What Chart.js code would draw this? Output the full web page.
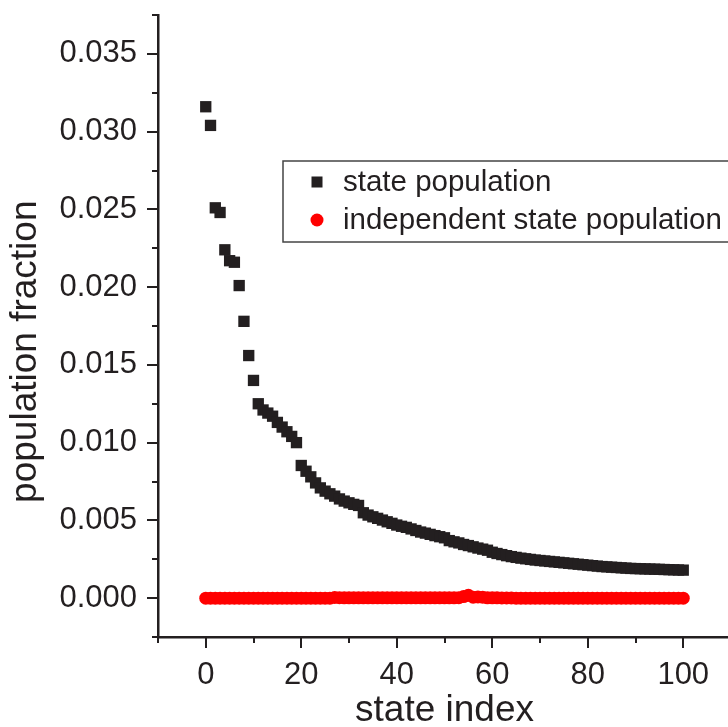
<!DOCTYPE html>
<html>
<head>
<meta charset="utf-8">
<script src="https://cdn.jsdelivr.net/npm/chart.js@4.4.1/dist/chart.umd.min.js"></script>
<style>
  html, body { margin: 0; padding: 0; overflow: hidden; background: #fff; }
  #wrap { width: 728px; height: 727px; overflow: hidden; }
</style>
</head>
<body>
<div id="wrap"><canvas id="myChart" width="739" height="733"></canvas></div>
<script>
// state population fraction per state index (0..100)
const statePopulation = [
  0.0316, 0.0304, 0.0251, 0.0248, 0.0224, 0.0217, 0.0216, 0.0201, 0.0178, 0.0156,
  0.0140, 0.0125, 0.0121, 0.0119, 0.0117, 0.0113, 0.0110, 0.0107, 0.0104, 0.0100,
  0.00853, 0.00816, 0.00780, 0.00741, 0.00709, 0.00688, 0.00671, 0.00656, 0.00638, 0.00624,
  0.00613, 0.00603, 0.00596, 0.00549, 0.00534, 0.00523, 0.00513, 0.00502, 0.00491, 0.00481,
  0.00470, 0.00462, 0.00455, 0.00445, 0.00435, 0.00425, 0.00418, 0.00410, 0.00402, 0.00395,
  0.00388, 0.00370, 0.00362, 0.00355, 0.00345, 0.00338, 0.00330, 0.00322, 0.00315, 0.00308,
  0.00295, 0.00287, 0.00280, 0.00273, 0.00267, 0.00262, 0.00257, 0.00253, 0.00249, 0.00245,
  0.00242, 0.00239, 0.00236, 0.00233, 0.00230, 0.00227, 0.00224, 0.00221, 0.00218, 0.00215,
  0.00212, 0.00209, 0.00206, 0.00203, 0.00201, 0.00199, 0.00197, 0.00195, 0.00193, 0.00191,
  0.00190, 0.00189, 0.00188, 0.00187, 0.00186, 0.00185, 0.00184, 0.00183, 0.00182, 0.00181,
  0.00180
];

// independent state population (practically zero everywhere)
const independentPopulation = [
  0, 0, 0, 0, 0, 0, 0, 0, 0, 0,
  0, 0, 0, 0, 0, 0, 0, 0, 0, 0,
  0, 0, 0, 0, 0, 0, 0, 0.00004, 0.00003, 0.00002,
  0.00002, 0.00002, 0.00002, 0.00002, 0.00002, 0.00002, 0.00002, 0.00002, 0.00002, 0.00002,
  0.00002, 0.00002, 0.00002, 0.00002, 0.00002, 0.00002, 0.00002, 0.00002, 0.00002, 0.00002,
  0.00002, 0.00002, 0.00002, 0.00003, 0.00010, 0.00018, 0.00006, 0.00008, 0.00006, 0.00002,
  0.00002, 0.00002, 0.00001, 0.00001, 0.00001, 0, 0, 0, 0, 0,
  0, 0, 0, 0, 0, 0, 0, 0, 0, 0,
  0, 0, 0, 0, 0, 0, 0, 0, 0, 0,
  0, 0, 0, 0, 0, 0, 0, 0, 0, 0,
  0
];

const seriesNames = ['state population', 'independent state population'];
const xTickLabels = [0, 20, 40, 60, 80, 100];
const yTickLabels = [0.000, 0.005, 0.010, 0.015, 0.020, 0.025, 0.030, 0.035];

const ink = '#231f20';
const font = '"Liberation Sans", Arial, sans-serif';

const isLabelledX = v => xTickLabels.some(t => Math.abs(t - v) < 1e-6);
const isLabelledY = v => yTickLabels.some(t => Math.abs(t - v) < 1e-7);

// major / minor tick marks (Chart.js has one tick length per axis)
const tickMarks = {
  id: 'tickMarks',
  afterDraw(chart) {
    const ctx = chart.ctx;
    const xs = chart.scales.x;
    const ys = chart.scales.y;
    ctx.save();
    ctx.strokeStyle = ink;
    ctx.lineWidth = 2;
    ys.ticks.forEach(t => {
      const len = isLabelledY(t.value) ? 11 : 6;
      const py = Math.round(ys.getPixelForValue(t.value));
      ctx.beginPath();
      ctx.moveTo(ys.right - len, py);
      ctx.lineTo(ys.right, py);
      ctx.stroke();
    });
    xs.ticks.forEach(t => {
      const len = isLabelledX(t.value) ? 11 : 6;
      const px = Math.round(xs.getPixelForValue(t.value));
      ctx.beginPath();
      ctx.moveTo(px, xs.top);
      ctx.lineTo(px, xs.top + len);
      ctx.stroke();
    });
    ctx.restore();
  }
};

// boxed legend inside the plot area
const boxLegend = {
  id: 'boxLegend',
  afterDraw(chart) {
    const ctx = chart.ctx;
    const area = chart.chartArea;
    const left = area.left + 125;
    const top = area.top + 146;
    const rowH = 38;
    ctx.save();
    ctx.strokeStyle = '#444';
    ctx.lineWidth = 1.5;
    ctx.strokeRect(left, top, 470, 81);
    ctx.font = '29.5px ' + font;
    ctx.textBaseline = 'middle';
    ctx.fillStyle = ink;
    chart.data.datasets.forEach((ds, i) => {
      const cy = top + 21 + i * rowH;
      const cx = left + 34;
      ctx.fillStyle = ds.backgroundColor;
      if (ds.pointStyle === 'rect') {
        ctx.fillRect(cx - 5.5, cy - 5.5, 11, 11);
      } else {
        ctx.beginPath();
        ctx.arc(cx, cy, 6.5, 0, Math.PI * 2);
        ctx.fill();
      }
      ctx.fillStyle = ink;
      ctx.fillText(ds.label, left + 60, cy + 1);
    });
    ctx.restore();
  }
};

const myChart = document.getElementById('myChart');

new Chart(myChart, {
  type: 'scatter',
  data: {
    datasets: [{
      label: seriesNames[0],
      data: statePopulation.map((v, i) => ({ x: i, y: v })),
      pointStyle: 'rect',
      pointRadius: 8,
      borderWidth: 0,
      backgroundColor: ink,
      borderColor: ink
    }, {
      label: seriesNames[1],
      data: independentPopulation.map((v, i) => ({ x: i, y: v })),
      pointStyle: 'circle',
      pointRadius: 6.5,
      borderWidth: 0,
      backgroundColor: '#ff0000',
      borderColor: '#ff0000'
    }]
  },
  options: {
    responsive: false,
    animation: false,
    layout: { padding: { top: 15, left: 0, right: 0, bottom: 0 } },
    plugins: {
      legend: { display: false },
      tooltip: { enabled: false }
    },
    scales: {
      x: {
        type: 'linear',
        min: -10,
        max: 110,
        afterFit(scale) {
          scale.height = 96;
          scale.paddingLeft = 0;
          scale.paddingRight = 0;
        },
        border: { display: true, color: ink, width: 2.5 },
        grid: { display: true, drawOnChartArea: false, drawTicks: true, tickLength: 11, tickColor: 'transparent' },
        ticks: {
          stepSize: 10,
          autoSkip: false,
          maxRotation: 0,
          padding: 9,
          color: ink,
          font: { family: font, size: 31 },
          callback: v => isLabelledX(v) ? String(Math.round(v)) : ''
        },
        title: {
          display: true,
          text: 'state index',
          color: ink,
          font: { family: font, size: 37 },
          padding: { top: 0, bottom: 0 }
        }
      },
      y: {
        type: 'linear',
        min: -0.0025,
        max: 0.0375,
        afterFit(scale) {
          scale.width = 158;
          scale.paddingTop = 0;
          scale.paddingBottom = 0;
        },
        border: { display: true, color: ink, width: 2.5 },
        grid: { display: true, drawOnChartArea: false, drawTicks: true, tickLength: 11, tickColor: 'transparent' },
        ticks: {
          stepSize: 0.0025,
          autoSkip: false,
          padding: 10,
          color: ink,
          font: { family: font, size: 31 },
          callback: v => isLabelledY(v) ? v.toFixed(3) : ''
        },
        title: {
          display: true,
          text: 'population fraction     ',
          color: ink,
          font: { family: font, size: 37 },
          padding: { top: 4, bottom: 0 }
        }
      }
    }
  },
  plugins: [tickMarks, boxLegend]
});
</script>
</body>
</html>
